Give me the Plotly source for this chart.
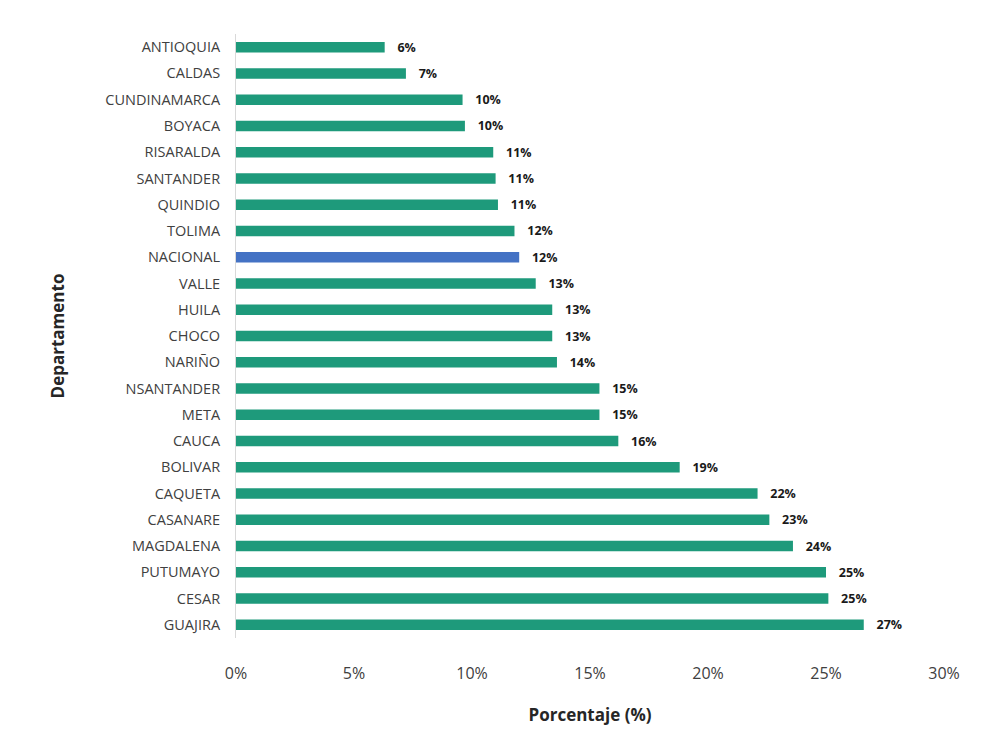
import plotly.graph_objects as go

departamentos = ["ANTIOQUIA", "CALDAS", "CUNDINAMARCA", "BOYACA", "RISARALDA", "SANTANDER",
                 "QUINDIO", "TOLIMA", "NACIONAL", "VALLE", "HUILA", "CHOCO", "NARIÑO",
                 "NSANTANDER", "META", "CAUCA", "BOLIVAR", "CAQUETA", "CASANARE",
                 "MAGDALENA", "PUTUMAYO", "CESAR", "GUAJIRA"]
porcentaje = [0.063, 0.072, 0.096, 0.097, 0.109, 0.110, 0.111, 0.118, 0.120, 0.127,
              0.134, 0.134, 0.136, 0.154, 0.154, 0.162, 0.188, 0.221, 0.226, 0.236,
              0.250, 0.251, 0.266]
x_ticks = [0, 0.05, 0.10, 0.15, 0.20, 0.25, 0.30]

GREEN = "#1e9a7b"
BLUE = "#4472c4"
colors = [BLUE if d == "NACIONAL" else GREEN for d in departamentos]

fig = go.Figure(go.Bar(
    x=porcentaje, y=departamentos, orientation="h",
    marker=dict(color=colors, line=dict(width=0)),
    texttemplate="   %{x:.0%}", textposition="outside", constraintext="none",
    textfont=dict(family="Open Sans", size=12.5, color="#1a1a1a", weight="bold"),
    cliponaxis=False,
))

fig.update_layout(
    width=994, height=738,
    margin=dict(l=228, r=58, t=26, b=108),
    paper_bgcolor="white", plot_bgcolor="white",
    bargap=0.6, showlegend=False,
    font=dict(family="Open Sans", color="#404040"),
    xaxis=dict(range=[0, 0.30], tickvals=x_ticks, tickformat=".0%",
               showgrid=False, zeroline=False, showline=False,
               ticks="outside", ticklen=21, tickcolor="rgba(0,0,0,0)",
               tickfont=dict(size=16, color="#404040"),
               title=dict(text="<b>Porcentaje (%)</b>", font=dict(size=17, color="#262626"),
                          standoff=25)),
    yaxis=dict(autorange="reversed", showgrid=False, zeroline=False,
               showline=True, linecolor="#d9d9d9", linewidth=1,
               ticks="outside", ticklen=12, tickcolor="rgba(0,0,0,0)",
               tickfont=dict(size=14.5, color="#404040"),
               title=dict(text="<b>Departamento</b>", font=dict(size=17, color="#262626"),
                          standoff=36)),
)

fig.write_html("out.html")
